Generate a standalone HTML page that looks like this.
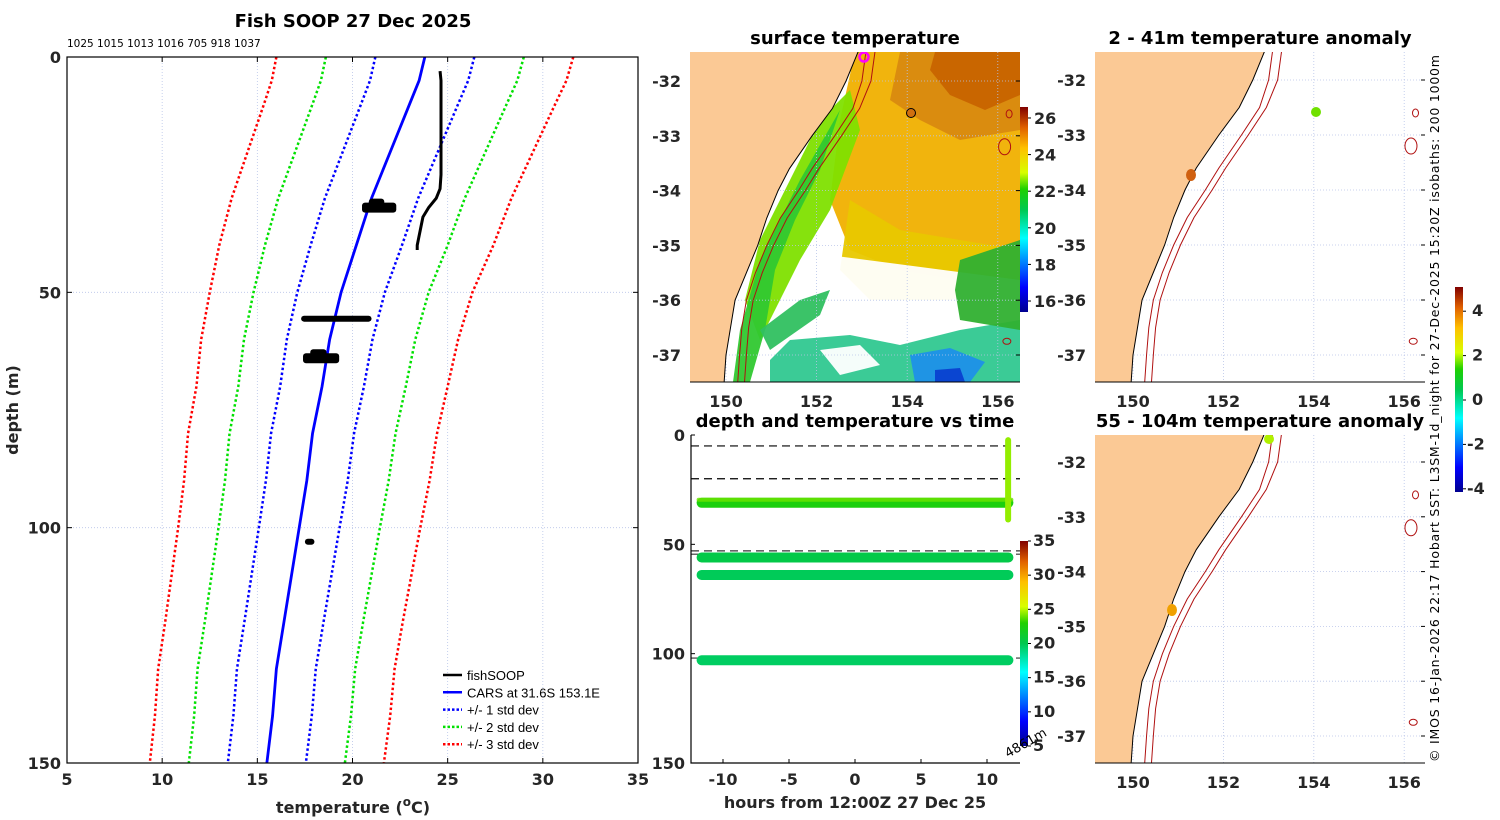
<!DOCTYPE html>
<html><head><meta charset="utf-8">
<style>
body{margin:0;background:#fff;}
svg{display:block;font-family:"DejaVu Sans","Liberation Sans",sans-serif;}
.tk{font-size:16px;font-weight:bold;fill:#262626}
.ttl{font-size:18px;font-weight:bold;fill:#000}
</style></head>
<body>
<svg id="fig" width="1500" height="820" viewBox="0 0 1500 820" xmlns="http://www.w3.org/2000/svg">
<defs>
<clipPath id="cpL"><rect x="67" y="57" width="571" height="706"/></clipPath>
<clipPath id="cpM1"><rect x="690" y="52" width="330" height="330"/></clipPath>
<clipPath id="cpR1"><rect x="1095" y="52" width="330" height="330"/></clipPath>
<clipPath id="cpR2"><rect x="1095" y="435" width="330" height="328"/></clipPath>
<linearGradient id="jetV" x1="0" y1="1" x2="0" y2="0">
<stop offset="0" stop-color="#00008f"/><stop offset="0.12" stop-color="#0000ff"/><stop offset="0.36" stop-color="#00ffff"/><stop offset="0.5" stop-color="#00c850"/><stop offset="0.6" stop-color="#20d000"/><stop offset="0.68" stop-color="#d8ff00"/><stop offset="0.8" stop-color="#ffc000"/><stop offset="0.9" stop-color="#e06000"/><stop offset="1" stop-color="#800000"/>
</linearGradient>
</defs>
<g id="root"></g>
</svg>
<script>
// ---------- Left profile data ----------
const depths = [0,5,10,20,30,40,50,60,70,80,90,100,110,120,130,140,150];
const carsMean = [23.8,23.5,23.0,22.0,21.0,20.2,19.4,18.8,18.4,17.9,17.6,17.2,16.8,16.4,16.0,15.8,15.5];
const carsStd = [2.6,2.58,2.55,2.5,2.45,2.4,2.3,2.25,2.2,2.18,2.15,2.12,2.1,2.08,2.07,2.06,2.05];
const fishDepth = [3,5,10,15,20,25,28,30,32,34,36,38,40,41];
const fishTemp = [24.6,24.65,24.65,24.65,24.65,24.65,24.6,24.4,24.0,23.7,23.6,23.5,23.4,23.4];
const clusterDepth = [32,55.6,64,103];
const clusterTmin = [20.5,17.3,17.4,17.5];
const clusterTmax = [22.3,21.0,19.3,18.0];
const xTicks = [5,10,15,20,25,30,35];
const yTicks = [0,50,100,150];
// ---------- time-depth panel ----------
const bandDepths = [31,56,64,103];
const bandTemps = [22.5,20.3,19.8,19.6];
const dashDepths = [5,20,53,54.5,102];
const hTicks = [-10,-5,0,5,10];
// ---------- map data ----------
const coastLat = [-31.4,-32.0,-32.5,-33.0,-33.6,-34.0,-34.5,-35.0,-35.5,-36.0,-36.5,-37.0,-37.6];
const coastLon = [152.95,152.65,152.35,151.9,151.4,151.15,150.9,150.7,150.45,150.2,150.1,150.0,149.95];
const iso200Lon = [153.1,153.0,152.8,152.4,151.9,151.6,151.2,150.9,150.65,150.45,150.35,150.3,150.25];
const iso1000Lon = [153.3,153.2,152.95,152.55,152.05,151.75,151.35,151.05,150.8,150.6,150.5,150.45,150.4];
const lonTicks = [150,152,154,156];
const latTicks = [-32,-33,-34,-35,-36,-37];

const NS='http://www.w3.org/2000/svg';
const root=document.getElementById('root');
function el(tag,attrs,parent,text){const e=document.createElementNS(NS,tag);for(const k in attrs)e.setAttribute(k,attrs[k]);if(text!==undefined)e.textContent=text;(parent||root).appendChild(e);return e;}
function jet(v){
 const s=[[0,[0,0,143]],[0.12,[0,0,255]],[0.36,[0,255,255]],[0.5,[0,200,80]],[0.6,[32,208,0]],[0.68,[216,255,0]],[0.8,[255,192,0]],[0.9,[224,96,0]],[1,[128,0,0]]];
 v=Math.max(0,Math.min(1,v));for(let i=1;i<s.length;i++){if(v<=s[i][0]){const t=(v-s[i-1][0])/(s[i][0]-s[i-1][0]);const a=s[i-1][1],b=s[i][1];return 'rgb('+a.map((c,j)=>Math.round(c+(b[j]-c)*t)).join(',')+')';}}return 'rgb(128,0,0)';}

// ================= LEFT PANEL =================
const L={x0:67,x1:638,y0:57,y1:763};
const xS=t=>L.x0+(t-5)/30*(L.x1-L.x0);
const yS=d=>L.y0+d/150*(L.y1-L.y0);
const gL=el('g',{});


let t=el('text',{x:353,y:27,'text-anchor':'middle',class:'ttl'},gL,'Fish SOOP 27 Dec 2025');

t=el('text',{x:67,y:47,'font-size':'10.5',fill:'#000'},gL,'1025 1015 1013 1016 705 918 1037');

xTicks.forEach(v=>{if(v>5&&v<35)el('line',{x1:xS(v),x2:xS(v),y1:L.y0,y2:L.y1,stroke:'#b8c4e8','stroke-width':0.8,'stroke-dasharray':'1,2'},gL);
 el('line',{x1:xS(v),x2:xS(v),y1:L.y1,y2:L.y1-5,stroke:'#000'},gL);el('line',{x1:xS(v),x2:xS(v),y1:L.y0,y2:L.y0+5,stroke:'#000'},gL);
 const tt=el('text',{x:xS(v),y:785,'text-anchor':'middle',class:'tk'},gL,String(v));});
yTicks.forEach(v=>{if(v>0&&v<150)el('line',{x1:L.x0,x2:L.x1,y1:yS(v),y2:yS(v),stroke:'#b8c4e8','stroke-width':0.8,'stroke-dasharray':'1,2'},gL);
 el('line',{x1:L.x0,x2:L.x0+5,y1:yS(v),y2:yS(v),stroke:'#000'},gL);el('line',{x1:L.x1,x2:L.x1-5,y1:yS(v),y2:yS(v),stroke:'#000'},gL);
 const tt=el('text',{x:61,y:yS(v)+6,'text-anchor':'end',class:'tk'},gL,String(v));});
const cl=el('g',{'clip-path':'url(#cpL)'},gL);
function prof(k,color,dash,w,name){const pts=depths.map((d,i)=>xS(carsMean[i]+k*carsStd[i])+','+yS(d)).join(' ');const p=el('polyline',{points:pts,fill:'none',stroke:color,'stroke-width':w,'stroke-dasharray':dash},cl);}
[[3,'#ff0000','std3'],[2,'#00e000','std2'],[1,'#0000ff','std1']].forEach(a=>{prof(-a[0],a[1],'2.5,2.5',2.5,a[2]+'-lower');prof(a[0],a[1],'2.5,2.5',2.5,a[2]+'-upper');});
prof(0,'#0000ff','',2.8,'cars-mean-line');
let fp=el('polyline',{points:fishDepth.map((d,i)=>xS(fishTemp[i])+','+yS(d)).join(' '),fill:'none',stroke:'#000','stroke-width':3},cl);

clusterDepth.forEach((d,i)=>{const h=[10,6,10,6][i];const xa=xS(clusterTmin[i]),xb=xS(clusterTmax[i]);
 const r=el('rect',{x:xa,y:yS(d)-h/2,width:xb-xa,height:h,rx:3,fill:'#000'},cl);
 
 if(i==0||i==2){el('rect',{x:xa+(xb-xa)*0.2,y:yS(d)-h/2-4,width:(xb-xa)*0.45,height:h,rx:3,fill:'#000'},cl);}});
el('rect',{x:L.x0,y:L.y0,width:L.x1-L.x0,height:L.y1-L.y0,fill:'none',stroke:'#000','stroke-width':1.2},gL);
t=el('text',{x:353,y:813,'text-anchor':'middle',class:'tk','font-size':'18'},gL,'temperature (');
t.innerHTML='temperature (<tspan dy="-7" font-size="12">o</tspan><tspan dy="7">C)</tspan>';
t=el('text',{x:18,y:410,'text-anchor':'middle',class:'tk','font-size':'18',transform:'rotate(-90 18 410)'},gL,'depth (m)');
const lg=el('g',{},gL);
[['fishSOOP','#000',''],['CARS at 31.6S 153.1E','#0000ff',''],['+/- 1 std dev','#0000ff','2.5,2'],['+/- 2 std dev','#00e000','2.5,2'],['+/- 3 std dev','#ff0000','2.5,2']].forEach((e,i)=>{
 const y=675+i*17.3;const g=el('g',{},lg);
 el('line',{x1:443,x2:462,y1:y,y2:y,stroke:e[1],'stroke-width':2.5,'stroke-dasharray':e[2]},g);
 el('text',{x:467,y:y+5,'font-size':'13',fill:'#000','font-family':'Liberation Sans, sans-serif'},g,e[0]);});

// ================= MAP helpers =================
function makeMap(cfg){
 const g=el('g',{});
 const X=lon=>cfg.x150+(lon-150)*cfg.kx, Y=lat=>cfg.y32+(-32-lat)*cfg.ky;
 const c=el('g',{'clip-path':'url(#'+cfg.clip+')'},g);
 el('rect',{x:cfg.x0,y:cfg.y0,width:cfg.w,height:cfg.h,fill:'#fff'},c);
 if(cfg.sst) cfg.sst(c);
 lonTicks.forEach(v=>el('line',{x1:X(v),x2:X(v),y1:cfg.y0,y2:cfg.y0+cfg.h,stroke:'#b8c4e8','stroke-width':0.8,'stroke-dasharray':'1,2'},c));
 latTicks.forEach(v=>el('line',{x1:cfg.x0,x2:cfg.x0+cfg.w,y1:Y(v),y2:Y(v),stroke:'#b8c4e8','stroke-width':0.8,'stroke-dasharray':'1,2'},c));
 let pts=coastLon.map((lo,i)=>X(lo)+','+Y(coastLat[i]));
 const land=el('polygon',{points:(cfg.x0-5)+','+(Y(-31.4))+' '+pts.join(' ')+' '+(cfg.x0-5)+','+Y(-37.6),fill:'#fbc995',stroke:'#000','stroke-width':1},c);
 
 [iso200Lon,iso1000Lon].forEach((arr,k)=>{const p=el('polyline',{points:arr.map((lo,i)=>X(lo)+','+Y(coastLat[i])).join(' '),fill:'none',stroke:'#b01010','stroke-width':1},c);
  });
 [[156.25,-32.6,3,4],[156.15,-33.2,6,8],[156.2,-36.75,4,3]].forEach(s=>el('ellipse',{cx:X(s[0]),cy:Y(s[1]),rx:s[2],ry:s[3],fill:'none',stroke:'#b01010','stroke-width':1},c));
 if(cfg.marks) cfg.marks(c,X,Y);
 el('line',{x1:cfg.x0,x2:cfg.x0+cfg.w,y1:cfg.y0+cfg.h,y2:cfg.y0+cfg.h,stroke:'#000'},g);
 lonTicks.forEach(v=>{const tt=el('text',{x:X(v),y:cfg.y0+cfg.h+25,'text-anchor':'middle',class:'tk'},g,String(v));});
 latTicks.forEach(v=>{const tt=el('text',{x:cfg.x0-9,y:Y(v)+6,'text-anchor':'end',class:'tk'},g,String(v));
   el('line',{x1:cfg.x0+cfg.w,x2:cfg.x0+cfg.w-4,y1:Y(v),y2:Y(v),stroke:'#000'},g);});
 const tt=el('text',{x:cfg.x0+cfg.w/2,y:cfg.y0-8,'text-anchor':'middle',class:'ttl'},g,cfg.title);
 return g;
}
const m1=makeMap({x0:690,y0:52,w:330,h:330,clip:'cpM1',x150:726,kx:45.3,y32:81,ky:54.8,title:'surface temperature',
 sst:c=>{
  const blobs=[
   ['#f0b000','855,52 1020,52 1020,290 960,280 900,270 850,250 830,200 840,120'],
   ['#e8c800','850,200 900,230 960,240 1020,250 1020,280 950,300 870,300 840,270'],
   ['#d88a10','900,52 1020,52 1020,130 960,140 920,120 890,100'],
   ['#c86400','935,52 1020,52 1020,95 985,110 950,95 930,70'],
   ['#ffffff','790,250 1020,280 1020,330 960,320 900,330 850,320 800,330 770,320'],
   ['#80e000','850,90 860,130 830,210 800,260 780,300 760,340 745,300 760,240 790,180 820,120'],
   ['#30c830','840,110 820,170 795,220 775,270 765,330 750,382 733,382 740,330 760,260 800,180'],
   ['#30c060','760,330 800,300 830,290 820,315 770,350'],
   ['#30c890','790,340 850,335 900,345 960,330 1020,320 1020,382 770,382 770,360'],
   ['#ffffff','820,350 860,345 880,365 840,375'],
   ['#30b030','960,260 1020,240 1020,330 960,320 955,290'],
   ['#1e90e8','910,355 950,348 985,362 970,382 915,382'],
   ['#0a40d0','935,370 960,368 965,382 935,382']];
  blobs.forEach(b=>{const p=el('polygon',{points:b[1],fill:b[0],opacity:0.95},c);});
 },
 marks:(c,X,Y)=>{let a=el('circle',{cx:864,cy:57,r:4.5,fill:'none',stroke:'#ff00ff','stroke-width':2.5},c);
  a=el('circle',{cx:911,cy:113,r:4.5,fill:'#d07010',stroke:'#000','stroke-width':1},c);}});

let cb=el('rect',{x:1020,y:107,width:8,height:205,fill:'url(#jetV)'});
[26,24,22,20,18,16].forEach(v=>{const y=312-(v-15.4)/(26.6-15.4)*205;el('line',{x1:1028,x2:1031,y1:y,y2:y,stroke:'#000'});const tt=el('text',{x:1034,y:y+6,class:'tk'},root,String(v));});

const m2=makeMap({x0:1095,y0:52,w:330,h:330,clip:'cpR1',x150:1133,kx:45.2,y32:80,ky:55,title:'2 - 41m temperature anomaly',
 marks:(c)=>{let a=el('circle',{cx:1316,cy:112,r:5,fill:'#70e000'},c);
  a=el('ellipse',{cx:1191,cy:175,rx:5,ry:6,fill:'#d06010'},c);}});

const m3=makeMap({x0:1095,y0:435,w:330,h:328,clip:'cpR2',x150:1133,kx:45.2,y32:462,ky:54.8,title:'55 - 104m temperature anomaly',
 marks:(c)=>{let a=el('circle',{cx:1269,cy:439,r:5,fill:'#b0f000'},c);
  a=el('ellipse',{cx:1172,cy:610,rx:5,ry:6,fill:'#f0a000'},c);}});

cb=el('rect',{x:1455,y:287,width:8,height:205,fill:'url(#jetV)'});
[4,2,0,-2,-4].forEach(v=>{const y=400-v*22.2;el('line',{x1:1463,x2:1466,y1:y,y2:y,stroke:'#000'});const tt=el('text',{x:v<0?1467:1472,y:y+5,class:'tk','font-size':'13'},root,String(v));});

// ================= TIME-DEPTH PANEL =================
const T={x0:691,x1:1020,y0:435,y1:763};
const hx=h=>855+h*13.2, dy=d=>T.y0+d/150*(T.y1-T.y0);
const gT=el('g',{});
t=el('text',{x:855,y:427,'text-anchor':'middle',class:'ttl'},gT,'depth and temperature vs time');
dashDepths.forEach(d=>{const l=el('line',{x1:T.x0,x2:T.x1,y1:dy(d),y2:dy(d),stroke:d<30?'#000':'#333','stroke-width':1.2,'stroke-dasharray':'8,5'},gT);});
bandDepths.forEach((d,i)=>{const tc=jet((bandTemps[i]-5)/30);const r=el('rect',{x:hx(-12),y:dy(d)-5,width:hx(12)-hx(-12),height:10,rx:5,fill:tc},gT);
 if(i==0)el('rect',{x:hx(-12),y:dy(d)-5,width:hx(12)-hx(-12),height:4,rx:2,fill:jet((24-5)/30),opacity:0.8},gT);});
let vb=el('rect',{x:hx(11.6)-3,y:dy(1),width:6,height:dy(40)-dy(1),rx:3,fill:jet((24.5-5)/30)},gT);
el('polyline',{points:T.x0+','+T.y0+' '+T.x0+','+T.y1+' '+T.x1+','+T.y1,fill:'none',stroke:'#000','stroke-width':1.2},gT);
hTicks.forEach(h=>{el('line',{x1:hx(h),x2:hx(h),y1:T.y1,y2:T.y1-4,stroke:'#000'},gT);const tt=el('text',{x:hx(h),y:785,'text-anchor':'middle',class:'tk'},gT,String(h));});
yTicks.forEach(v=>{el('line',{x1:T.x0,x2:T.x0+4,y1:dy(v),y2:dy(v),stroke:'#000'},gT);const tt=el('text',{x:685,y:dy(v)+6,'text-anchor':'end',class:'tk'},gT,String(v));});
t=el('text',{x:855,y:808,'text-anchor':'middle',class:'tk','font-size':'17'},gT,'hours from 12:00Z 27 Dec 25');
cb=el('rect',{x:1020,y:541,width:8,height:205,fill:'url(#jetV)'},gT);
[35,30,25,20,15,10,5].forEach(v=>{const y=746-(v-5)/30*205;el('line',{x1:1028,x2:1031,y1:y,y2:y,stroke:'#000'},gT);const tt=el('text',{x:1033,y:y+5,class:'tk','font-size':'13'},gT,String(v));});
t=el('text',{x:1008,y:758,'font-size':'13',fill:'#000',transform:'rotate(-30 1008 758)'},gT,'4861m');

t=el('text',{x:1439,y:762,'font-size':'12.5',fill:'#000','font-family':'DejaVu Sans, sans-serif',transform:'rotate(-90 1439 762)'},root,'© IMOS 16-Jan-2026 22:17 Hobart SST: L3SM-1d_night for 27-Dec-2025 15:20Z isobaths: 200  1000m');

t.setAttribute('textLength','707');
</script>
</body></html>
